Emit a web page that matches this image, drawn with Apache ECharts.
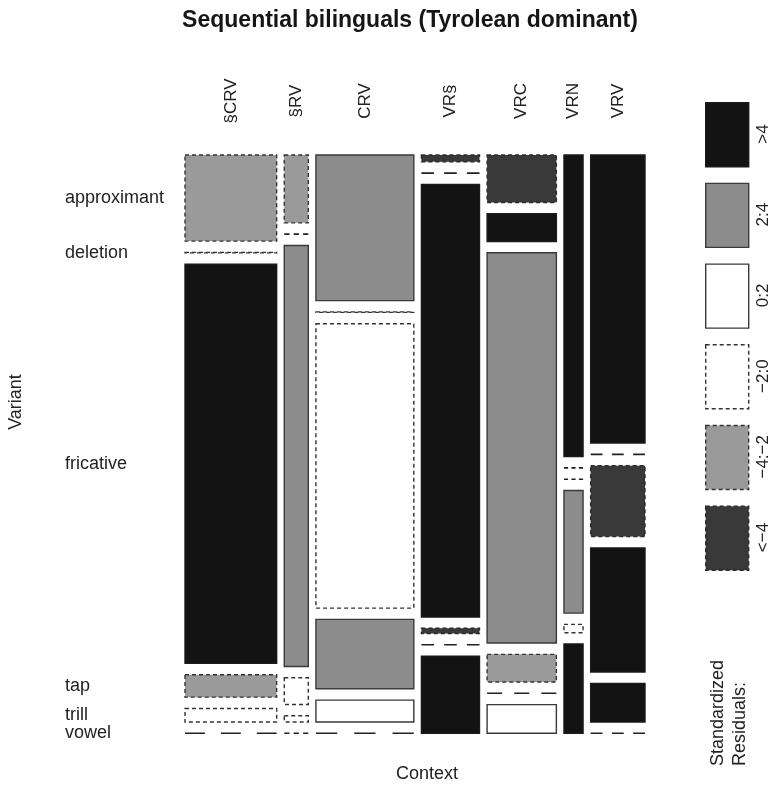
<!DOCTYPE html>
<html>
<head>
<meta charset="utf-8">
<script src="https://cdn.jsdelivr.net/npm/echarts@6/dist/echarts.min.js"></script>
<style>
html,body{margin:0;padding:0;background:#fff;}
#chart{width:776px;height:786px;}
</style>
</head>
<body>
<div id="chart"></div>
<script>
// ---------------- data ----------------
const contexts = ['§CRV', '§RV', 'CRV', 'VR§', 'VRC', 'VRN', 'VRV'];
const variants = ['approximant', 'deletion', 'fricative', 'tap', 'trill', 'vowel'];
// share of tokens per context (%)
const contextShare = [22.1, 5.8, 23.6, 14.0, 16.7, 4.6, 13.1];
// conditional distribution of variants within each context (%)
const pct_sCRV = [16.5, 0.1, 76.5, 4.3, 2.6, 0];
const pct_sRV  = [13.0, 0, 80.7, 5.1, 1.2, 0];
const pct_CRV  = [27.9, 0.1, 54.5, 13.3, 4.2, 0];
const pct_VRs  = [1.3, 0, 82.9, 1.0, 0, 14.8];
const pct_VRC  = [9.1, 5.3, 74.8, 5.3, 0, 5.5];
const pct_VRN  = [57.8, 0, 0, 23.5, 1.6, 17.1];
const pct_VRV  = [55.2, 0, 13.6, 23.8, 7.4, 0];
// standardized residual class of each cell
const res_sCRV = ['-4:-2', '-2:0', '>4', '-4:-2', '-2:0', '-2:0'];
const res_sRV  = ['-4:-2', '-2:0', '2:4', '-2:0', '-2:0', '-2:0'];
const res_CRV  = ['2:4', '-2:0', '-2:0', '2:4', '0:2', '-2:0'];
const res_VRs  = ['<-4', '-2:0', '>4', '<-4', '-2:0', '>4'];
const res_VRC  = ['<-4', '>4', '2:4', '-4:-2', '-2:0', '0:2'];
const res_VRN  = ['>4', '-2:0', '-2:0', '2:4', '-2:0', '>4'];
const res_VRV  = ['>4', '-2:0', '<-4', '>4', '>4', '-2:0'];
const legendLevels = ['>4', '2:4', '0:2', '-2:0', '-4:-2', '<-4'];

const pctRows = [pct_sCRV, pct_sRV, pct_CRV, pct_VRs, pct_VRC, pct_VRN, pct_VRV];
const resRows = [res_sCRV, res_sRV, res_CRV, res_VRs, res_VRC, res_VRN, res_VRV];

// ---------------- styles ----------------
const FONT = '"Liberation Sans", Arial, Helvetica, sans-serif';
const STYLE = {
  '>4':    {fill: '#131313', stroke: '#1a1a1a', dash: null},
  '2:4':   {fill: '#8c8c8c', stroke: '#3a3a3a', dash: null},
  '0:2':   {fill: '#ffffff', stroke: '#3a3a3a', dash: null},
  '-2:0':  {fill: '#ffffff', stroke: '#333333', dash: [4, 3]},
  '-4:-2': {fill: '#9a9a9a', stroke: '#333333', dash: [4, 3]},
  '<-4':   {fill: '#393939', stroke: '#2a2a2a', dash: [4, 3]}
};
const X_GAP = 1.834;  // spacing between columns (in share units)
const Y_GAP = 2.166;  // spacing between rows (in % units)

// build tiles
const tiles = [];
let xCum = 0;
contexts.forEach((ctx, c) => {
  const x0 = xCum + c * X_GAP;
  const x1 = x0 + contextShare[c];
  let yCum = 0;
  variants.forEach((v, r) => {
    const y0 = yCum + r * Y_GAP;
    const y1 = y0 + pctRows[c][r];
    tiles.push([x0, x1, y0, y1, c, r, legendLevels.indexOf(resRows[c][r]), pctRows[c][r]]);
    yCum += pctRows[c][r];
  });
  xCum += contextShare[c];
});
const xMax = contextShare.reduce((a, b) => a + b, 0) + (contexts.length - 1) * X_GAP;
const yMax = 100 + (variants.length - 1) * Y_GAP;

const chart = echarts.init(document.getElementById('chart'), null, {renderer: 'canvas'});

// legend graphics
const legendGraphics = [];
legendLevels.forEach((lv, i) => {
  const st = STYLE[lv];
  const top = 102 + i * 80.7;
  legendGraphics.push({
    type: 'rect', left: 705, top: top,
    shape: {width: 43, height: 64},
    style: {fill: st.fill, stroke: st.stroke, lineWidth: 1.4, lineDash: st.dash}
  });
  legendGraphics.push({
    type: 'text', x: 763, y: top + 32, rotation: Math.PI / 2,
    style: {text: lv.replace(/-/g, '\u2212'), font: '17px ' + FONT, fill: '#222', align: 'center', verticalAlign: 'middle'}
  });
});
legendGraphics.push({
  type: 'text', x: 729, y: 766, rotation: Math.PI / 2,
  style: {text: 'Standardized\nResiduals:', font: '18px ' + FONT, fill: '#222', align: 'left', verticalAlign: 'middle', lineHeight: 22}
});
legendGraphics.push({
  type: 'text', x: 16, y: 402, rotation: Math.PI / 2,
  style: {text: 'Variant', font: '18px ' + FONT, fill: '#222', align: 'center', verticalAlign: 'middle'}
});
legendGraphics.push({
  type: 'text', x: 427, y: 774,
  style: {text: 'Context', font: '18px ' + FONT, fill: '#222', align: 'center', verticalAlign: 'middle'}
});

chart.setOption({
  animation: false,
  backgroundColor: '#ffffff',
  title: {
    text: 'Sequential bilinguals (Tyrolean dominant)',
    left: 405, top: 4, textAlign: 'center',
    textStyle: {fontFamily: FONT, fontSize: 23, fontWeight: 'bold', color: '#151515'}
  },
  grid: {left: 185, right: 131, top: 155, bottom: 52.7},
  xAxis: {type: 'value', min: 0, max: xMax, show: false},
  yAxis: {type: 'value', min: 0, max: yMax, inverse: true, show: false},
  graphic: legendGraphics,
  series: [{
    type: 'custom',
    clip: false,
    data: tiles,
    renderItem: function (params, api) {
      const p0 = api.coord([api.value(0), api.value(2)]);
      const p1 = api.coord([api.value(1), api.value(3)]);
      const c = api.value(4), r = api.value(5);
      const st = STYLE[legendLevels[api.value(6)]];
      const w = p1[0] - p0[0];
      const h = p1[1] - p0[1];
      const children = [];
      if (api.value(7) === 0) {
        // empty cell: drawn as a dashed line spanning the tile width
        const dashLen = w / 4.6;
        children.push({
          type: 'line',
          shape: {x1: p0[0], y1: p0[1], x2: p1[0], y2: p0[1]},
          style: {stroke: '#222', lineWidth: 1.6, lineDash: [dashLen, dashLen * 0.8]}
        });
      } else {
        children.push({
          type: 'rect',
          shape: {x: p0[0], y: p0[1], width: w, height: h},
          style: {fill: st.fill, stroke: st.stroke, lineWidth: 1.4, lineDash: st.dash}
        });
      }
      if (c === 0) {
        children.push({
          type: 'text', x: 65, y: (p0[1] + p1[1]) / 2,
          style: {text: variants[r], font: '18px ' + FONT, fill: '#222', align: 'left', verticalAlign: 'middle'}
        });
      }
      if (r === 0) {
        children.push({
          type: 'text', x: (p0[0] + p1[0]) / 2, y: 101, rotation: Math.PI / 2,
          style: {text: contexts[c], font: '17px ' + FONT, fill: '#222', align: 'center', verticalAlign: 'middle'}
        });
      }
      return {type: 'group', children: children};
    }
  }]
});
</script>
</body>
</html>
